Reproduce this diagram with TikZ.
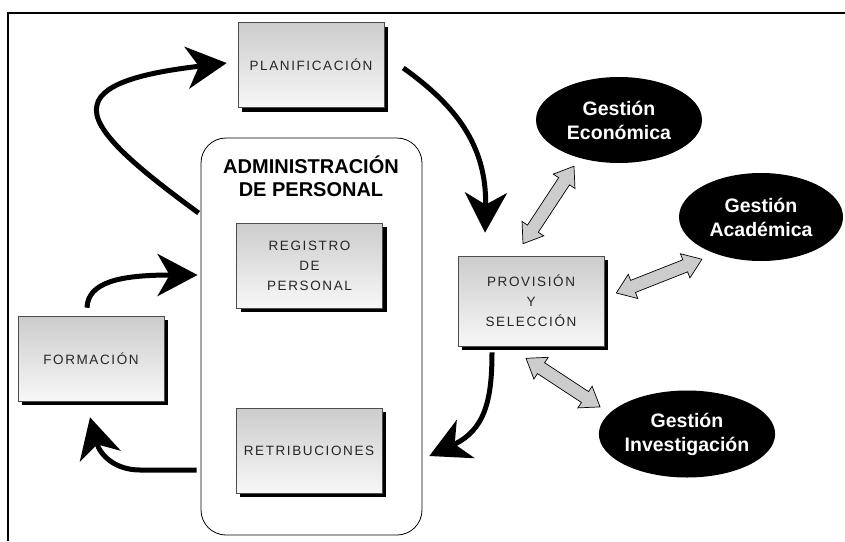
\documentclass[tikz,border=0pt]{standalone}
\usepackage{fontspec}
\setmainfont{Liberation Sans}
\newfontfamily\cajafont[LetterSpace=12]{Liberation Sans}
\usetikzlibrary{positioning,calc,shapes.geometric,shadows,arrows.meta}

\tikzset{
  caja/.style={draw=black!70, line width=0.6pt, top color=black!20, bottom color=black!3,
    minimum width=146pt, minimum height=85pt, inner sep=0pt, align=center, text=black!85,
    font=\cajafont\fontsize{13.5}{20}\selectfont,
    drop shadow={shadow xshift=4pt, shadow yshift=-4pt, fill=black, opacity=1}},
  gestion/.style={ellipse, fill=black, text=white, inner sep=0pt, align=center,
    font=\bfseries\fontsize{19.5}{24}\selectfont},
  flecha/.style={line width=5pt, -{Stealth[length=40pt, width=42pt, inset=12pt]}},
  flechagris/.style={fill=black!20, draw=black, line width=0.7pt, line join=miter}
}

% flecha doble gris entre dos coordenadas
\newcommand{\flechadoble}[2]{%
  \path let \p1=(#1), \p2=(#2) in
    \pgfextra{\pgfmathsetmacro\tmpang{atan2(\y2-\y1,\x2-\x1)}\xdef\angfl{\tmpang}%
      \pgfmathsetmacro\tmplen{veclen(\x2-\x1,\y2-\y1)}\xdef\lenfl{\tmplen}};
  \begin{scope}[shift={(#1)}, rotate=\angfl]
    \draw[flechagris] (0,0) -- (18,13) -- (18,6.5) -- (\lenfl-18,6.5) -- (\lenfl-18,13)
      -- (\lenfl,0) -- (\lenfl-18,-13) -- (\lenfl-18,-6.5) -- (18,-6.5) -- (18,-13) -- cycle;
  \end{scope}}

\begin{document}
\begin{tikzpicture}[x=1pt, y=-1pt]
  \useasboundingbox (0,0) rectangle (845,541);
  \draw[line width=2pt] (8,541) -- (8,13) -- (845,13);

  % administracion de personal
  \node[draw, rounded corners=25pt, line width=0.8pt, minimum width=221pt, minimum height=397pt] (admin) at (311.5,336.5) {};
  \node[font=\bfseries\fontsize{20}{23}\selectfont, align=center] (admintit) at (311,176) {ADMINISTRACIÓN\\DE PERSONAL};

  % cajas
  \node[caja] (plan) at (311,65) {PLANIFICACIÓN};
  \node[caja] (regis) at (309.5,265.5) {REGISTRO\\DE\\PERSONAL};
  \node[caja] (retri) at (309,450.5) {RETRIBUCIONES};
  \node[caja] (forma) at (91,358.5) {FORMACIÓN};
  \node[caja, minimum height=90pt] (provi) at (531,301) {PROVISIÓN\\Y\\SELECCIÓN};

  % gestiones
  \node[gestion, minimum width=166pt, minimum height=86pt] (econ) at (619,120) {Gestión\\Económica};
  \node[gestion, minimum width=164pt, minimum height=88pt] (acad) at (761,217) {Gestión\\Académica};
  \node[gestion, minimum width=161pt, minimum height=87pt] (inves) at (687,434) {Gestión\\Investigación};

  % flechas negras
  \draw[flecha] ([shift={(-2,-123.5)}]admin.west) .. controls (140,170) and (90,130) .. (97,105)
    .. controls (102,82) and (150,72) .. ([shift={(-11,-2)}]plan.west);
  \draw[flecha] ([shift={(19,3)}]plan.east) .. controls (455,105) and (487,145) .. ([shift={(-46,-23)}]provi.north);
  \draw[flecha] ([shift={(-4,-8)}]forma.north) .. controls (88,282) and (120,275) .. ([shift={(-3,-61.5)}]admin.west);
  \draw[flecha] ([shift={(-4,133.5)}]admin.west) -- (140,470) .. controls (115,470) and (100,455) .. ([shift={(-1,16)}]forma.south);
  \draw[flecha] ([shift={(-39,6)}]provi.south) .. controls (492,400) and (485,430) .. ([shift={(47,5.5)}]retri.east);

  % flechas grises
  \coordinate (ga1) at ([shift={(-8,-12)}]provi.north);
  \coordinate (ga2) at ([shift={(-45,3)}]econ.south);
  \coordinate (gb1) at ([shift={(12,-8)}]provi.east);
  \coordinate (gb2) at ([shift={(-59,-2)}]acad.south);
  \coordinate (gc1) at ([shift={(-5,12)}]provi.south);
  \coordinate (gc2) at ([shift={(1.5,-27)}]inves.west);
  \flechadoble{ga1}{ga2}
  \flechadoble{gb1}{gb2}
  \flechadoble{gc1}{gc2}
\end{tikzpicture}
\end{document}
